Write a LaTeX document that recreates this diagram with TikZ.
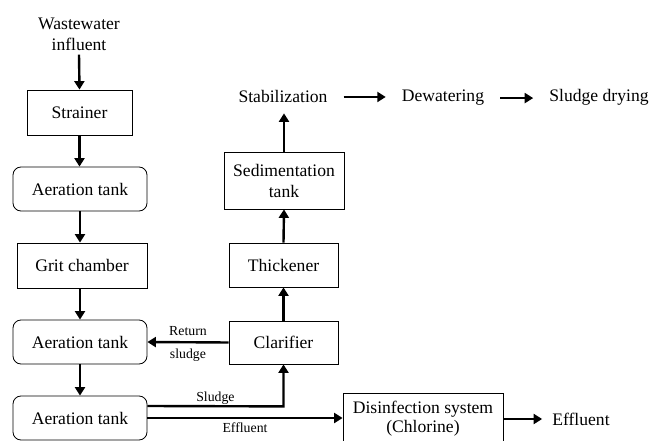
\documentclass[tikz,border=0pt]{standalone}
\usepackage{fontspec}
\setmainfont{Liberation Serif}
\usetikzlibrary{arrows.meta, positioning, calc}

\begin{document}
\begin{tikzpicture}[x=1pt, y=-1pt,
    txt/.style={font=\fontsize{17.6}{21}\selectfont, align=center},
    box/.style={txt, draw, line width=0.8pt, inner sep=2pt},
    rbox/.style={box, rounded corners=8pt},
    lbl/.style={txt, inner xsep=16pt, inner ysep=10pt},
    small/.style={font=\fontsize{13.8}{16}\selectfont},
    flow/.style={line width=2.4pt, -{Triangle[length=8.5pt, width=10pt]}}]
    \useasboundingbox (0,0) rectangle (651,441);
    \clip (0,0) rectangle (651,441);

    % main line
    \node[lbl, inner ysep=4pt] (influent) at (79,34) {Wastewater\\influent};
    \node[box, minimum width=105pt, minimum height=45pt] (strainer) at (79.5,112.5) {Strainer};
    \node[rbox, minimum width=134pt, minimum height=44pt] (aer1) at (80,189) {Aeration tank};
    \node[box, minimum width=130pt, minimum height=45pt] (grit) at (82,265.5) {Grit chamber};
    \node[rbox, minimum width=134pt, minimum height=44pt] (aer2) at (80,342) {Aeration tank};
    \node[rbox, minimum width=134pt, minimum height=44pt] (aer3) at (80,418) {Aeration tank};

    % sludge line
    \node[box, minimum width=109pt, minimum height=43pt] (clar) at (283.5,342.5) {Clarifier};
    \node[box, minimum width=109pt, minimum height=44pt] (thick) at (283.5,265) {Thickener};
    \node[box, minimum width=120pt, minimum height=57pt] (sed) at (284,180.5) {Sedimentation\\tank};
    \node[lbl, anchor=base] (stab) at (283,103) {Stabilization};
    \node[lbl, anchor=base] (dew) at (443,102) {Dewatering};
    \node[lbl, anchor=base] (dry) at (599,102) {Sludge drying};

    \node[box, minimum width=160pt, minimum height=52pt] (dis) at (423,419) {Disinfection system\\[-2pt](Chlorine)};
    \node[lbl, inner xsep=10pt] (eff) at (581,419) {Effluent};

    \draw[flow] (influent.south) -- (strainer.north);
    \draw[flow] (strainer.south) -- (strainer.south |- aer1.north);
    \draw[flow] (aer1.south) -- (aer1.south |- grit.north);
    \draw[flow] (aer1.south |- grit.south) -- (aer2.north);
    \draw[flow] (aer2.south) -- (aer3.north);

    \draw[flow] (clar.west) -- node[small, above, inner sep=5pt] {Return} node[small, below, inner sep=5pt] {sludge} (aer2.east);
    \draw[flow] ([yshift=12pt]aer3.east) -- node[small, above, pos=0.5, inner sep=1pt] {Sludge} ($(clar.south)+(0,406-364)$) -- (clar.south);
    \draw[flow] (aer3.east) -- node[small, below, pos=0.5] {Effluent} (aer3.east -| dis.west);
    \draw[flow] (clar.north) -- (thick.south);
    \draw[flow] (thick.north) -- (sed.south);
    \draw[flow] (sed.north) -- (sed.north |- stab.south);
    \draw[flow] (stab.east) -- (stab.east -| dew.west);
    \draw[flow] (dew.east) -- (dew.east -| dry.west);
    \draw[flow] (dis.east) -- (eff.west);
\end{tikzpicture}
\end{document}
